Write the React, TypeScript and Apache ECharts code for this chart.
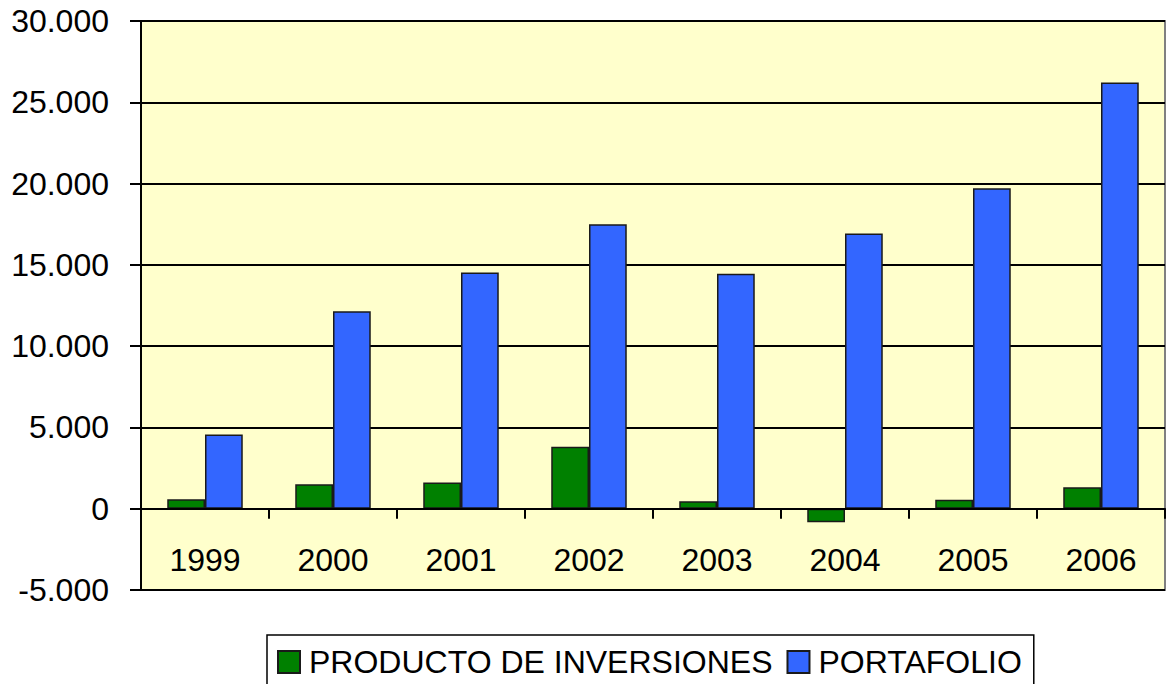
import React, { useEffect, useRef } from "react";
import * as echarts from "echarts";

const years = ["1999", "2000", "2001", "2002", "2003", "2004", "2005", "2006"];
const producto = [580, 1500, 1620, 3810, 460, -840, 550, 1320];
const portafolio = [4570, 12140, 14530, 17500, 14450, 16930, 19710, 26210];
const seriesNames = ["PRODUCTO DE INVERSIONES", "PORTAFOLIO"];

const FONT = "'Liberation Sans', Arial, sans-serif";

function fmt(v: number): string {
  const neg = v < 0;
  const s = String(Math.abs(v)).replace(/\B(?=(\d{3})+(?!\d))/g, ".");
  return (neg ? "-" : "") + s;
}

export default function App() {
  const ref = useRef<HTMLDivElement>(null);
  useEffect(() => {
    if (!ref.current) return;
    const chart = echarts.init(ref.current, null, { renderer: "svg" });
    chart.setOption({
      animation: false,
      backgroundColor: "#ffffff",
      grid: {
        left: 141,
        top: 21,
        right: 2,
        bottom: 94,
        show: true,
        backgroundColor: "#FFFFCC",
        borderColor: "#808080",
        borderWidth: 2,
      },
      legend: {
        left: 267,
        top: 635,
        orient: "horizontal",
        padding: [11, 12, 30, 10],
        borderColor: "#000",
        borderWidth: 1.5,
        itemWidth: 22,
        itemHeight: 22,
        itemGap: 14,
        icon: "rect",
        textStyle: {
          fontSize: 32,
          fontFamily: FONT,
          color: "#000",
          padding: [0, 0, 0, 4],
        },
        data: seriesNames,
      },
      xAxis: {
        type: "category",
        data: years,
        z: 3,
        axisLine: { onZero: true, lineStyle: { color: "#000", width: 2 } },
        axisTick: { show: true, length: 10, inside: false, alignWithLabel: false, lineStyle: { color: "#000", width: 2 } },
        axisLabel: { fontSize: 32, fontFamily: FONT, color: "#000", margin: -46 },
        splitLine: { show: false },
      },
      yAxis: {
        type: "value",
        min: -5000,
        max: 30000,
        interval: 5000,
        axisLine: { show: true, lineStyle: { color: "#000", width: 2 } },
        axisTick: { show: true, length: 11, inside: false, lineStyle: { color: "#000", width: 2 } },
        axisLabel: {
          fontSize: 32,
          fontFamily: FONT,
          color: "#000",
          margin: 32,
          formatter: (v: number) => fmt(v),
        },
        splitLine: { show: true, lineStyle: { color: "#000", width: 2 } },
      },
      series: [
        {
          name: seriesNames[0],
          type: "bar",
          data: producto,
          barGap: "0%",
          barCategoryGap: "41%",
          itemStyle: { color: "#008000", borderColor: "#1a1a1a", borderWidth: 1.5 },
        },
        {
          name: seriesNames[1],
          type: "bar",
          data: portafolio,
          barGap: "0%",
          barCategoryGap: "41%",
          itemStyle: { color: "#3366FF", borderColor: "#1a1a1a", borderWidth: 1.5 },
        },
      ],
    });
    return () => chart.dispose();
  }, []);
  return (
    <div
      ref={ref}
      style={{ position: "absolute", left: 0, top: 0, width: 1167, height: 684 }}
    />
  );
}
